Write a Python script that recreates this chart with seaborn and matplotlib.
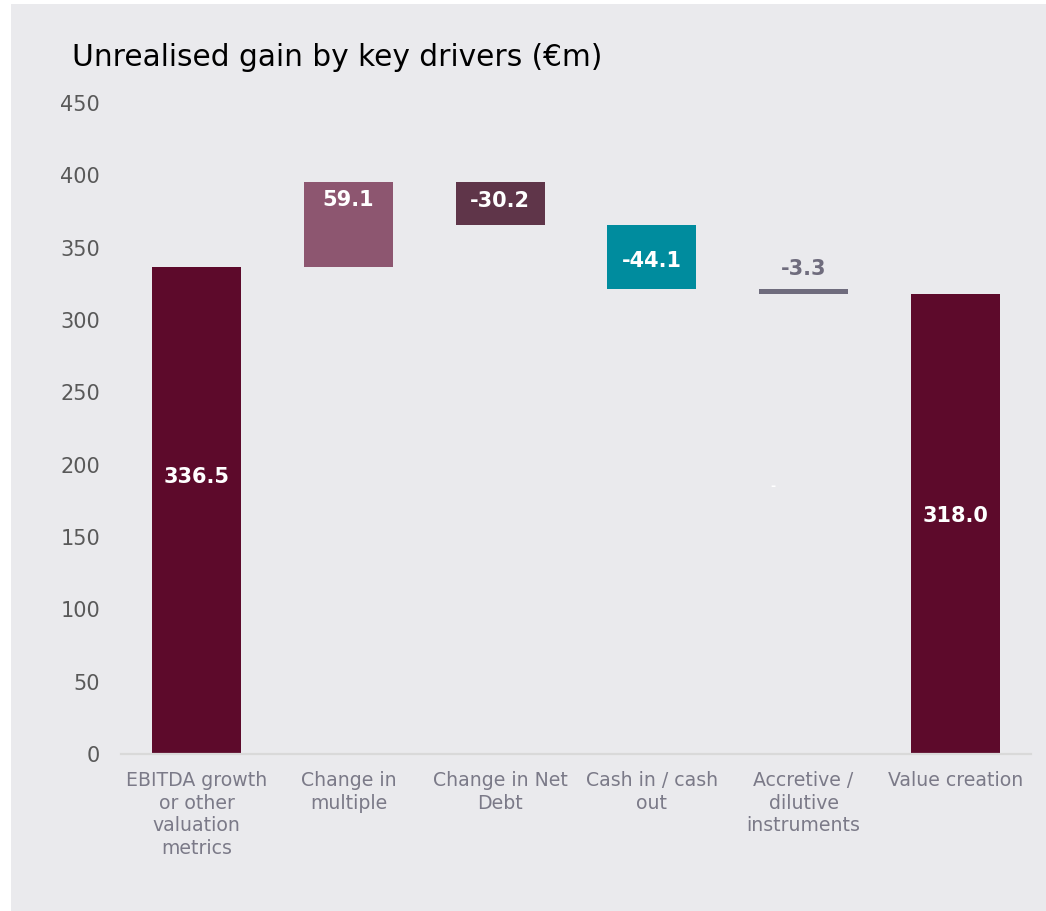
import matplotlib
matplotlib.use("Agg")
import matplotlib.pyplot as plt
from matplotlib.patches import Rectangle
import numpy as np
import pandas as pd
import seaborn as sns

# Waterfall of unrealised gain by driver (€m)
categories = [
    "EBITDA growth\nor other\nvaluation\nmetrics",
    "Change in\nmultiple",
    "Change in Net\nDebt",
    "Cash in / cash\nout",
    "Accretive /\ndilutive\ninstruments",
    "Value creation",
]
changes = [336.5, 59.1, -30.2, -44.1, -3.3]
total = 318.0
value_labels = ["336.5", "59.1", "-30.2", "-44.1", "-3.3", "318.0"]

# Running totals give each floating bar its base and height
starts = np.concatenate([[0.0], np.cumsum(changes)[:-1]])
ends = np.cumsum(changes)
bottoms = list(np.minimum(starts, ends)) + [0.0]
heights = list(np.abs(changes)) + [total]

bar_colors = ["#5D0A2B", "#8D5670", "#5F3549", "#008C9E", "#6F6C7D", "#5D0A2B"]
label_colors = ["white", "white", "white", "white", "#6F6C7D", "white"]
# vertical anchors for the value labels (data units)
label_y = [191.5, 383.0, 382.0, 341.0, 335.0, 164.5]

BG = "#EAEAED"

sns.set_style("white")
plt.rcParams["font.family"] = ["DejaVu Sans"]

W, H = 1046, 911
fig = plt.figure(figsize=(W / 100, H / 100), dpi=100)
fig.patch.set_facecolor("white")
fig.patches.append(Rectangle((11 / W, 0), 1 - 11 / W, 1 - 4 / H,
                             transform=fig.transFigure, facecolor=BG,
                             edgecolor="none", zorder=-5))

ax = fig.add_axes([121 / W, (H - 754) / H, 910 / W, 651 / H])
ax.set_facecolor("none")
ax.set_zorder(2)

df = pd.DataFrame({"driver": categories, "height": heights})
sns.barplot(data=df, x="driver", y="height", bottom=bottoms, width=0.586,
            color=bar_colors[0], saturation=1, ax=ax, errorbar=None)
for patch, c in zip(ax.patches, bar_colors):
    patch.set_facecolor(c)
    patch.set_edgecolor("none")

for i, (txt, y, c) in enumerate(zip(value_labels, label_y, label_colors)):
    ax.text(i, y, txt, ha="center", va="center", color=c,
            fontsize=15, fontweight="bold")
# stray white dash sitting in the accretive / dilutive column
ax.text(4 - 0.2, 185, "-", ha="center", va="center", color="white",
        fontsize=9, fontweight="bold")

ax.set_xlim(-0.5, 5.5)
ax.set_ylim(0, 450)
ax.set_yticks(np.arange(0, 451, 50))
ax.set_xlabel("")
ax.set_ylabel("")
ax.tick_params(axis="y", length=0, pad=15, labelsize=15, labelcolor="#595959")
ax.tick_params(axis="x", length=0, pad=12, labelsize=13.6, labelcolor="#7B7A88")
for lbl in ax.get_xticklabels():
    lbl.set_linespacing(1.26)
for side in ["top", "right", "left"]:
    ax.spines[side].set_visible(False)
ax.spines["bottom"].set_color("#D9D9D9")
ax.spines["bottom"].set_linewidth(1.6)

fig.text(72 / W, 1 - 57 / H, "Unrealised gain by key drivers (€m)",
         ha="left", va="center", fontsize=21.3, color="black")

fig.savefig("out.png", dpi=100, facecolor=fig.get_facecolor())
